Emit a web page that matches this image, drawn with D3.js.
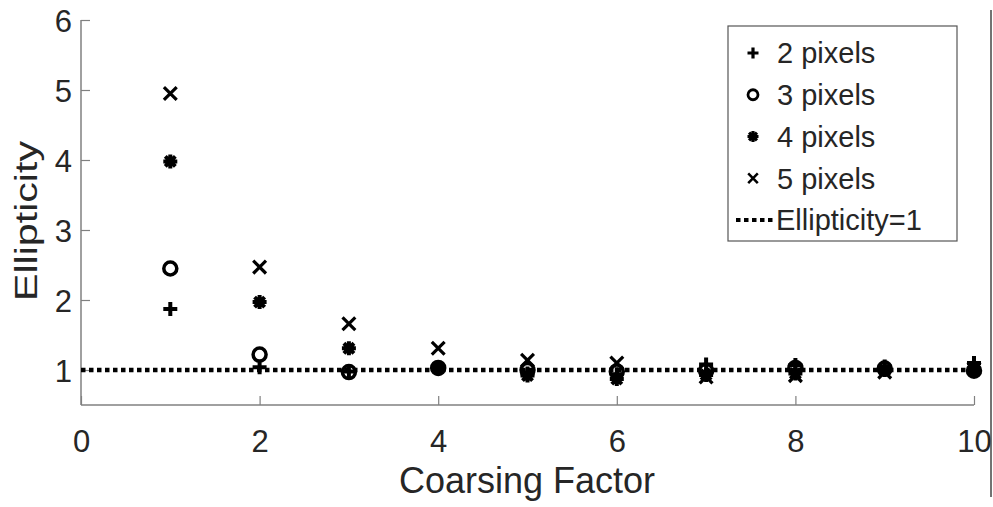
<!DOCTYPE html>
<html>
<head>
<meta charset="utf-8">
<script src="https://cdn.jsdelivr.net/npm/d3@7"></script>
<style>
  body { margin: 0; background: #fff; }
  svg text { font-family: "Liberation Sans", Arial, Helvetica, sans-serif; }
</style>
</head>
<body>
<svg id="chart" width="993" height="507"></svg>
<script>
// coarsing factor on x, one ellipticity series per pixel size
const factors = [1, 2, 3, 4, 5, 6, 7, 8, 9, 10]
const px2 = [1.87, 1.04, 0.98, 1.02, 0.95, 0.94, 1.08, 1.07, 1.05, 1.10]
const px3 = [2.45, 1.22, 0.97, 1.03, 1.00, 0.98, 0.99, 1.03, 1.02, 0.99]
const px4 = [3.98, 1.97, 1.31, 1.03, 0.92, 0.87, 0.93, 0.95, 1.00, 1.00]
const px5 = [4.95, 2.47, 1.66, 1.31, 1.14, 1.10, 0.90, 0.92, 0.97, 1.02]
const seriesNames = ['2 pixels', '3 pixels', '4 pixels', '5 pixels']
const xTicks = [0, 2, 4, 6, 8, 10]
const yTicks = [1, 2, 3, 4, 5, 6]
const refValue = 1
const refLabel = 'Ellipticity=1'

const svg = d3.select('#chart')
const axisColor = '#808080'
const textColor = '#262626'

const xScale = d3.scaleLinear().domain([0, 10]).range([81, 974])
const yScale = d3.scaleLinear().domain([0.5, 6]).range([405, 20])

// marker shapes (matlab style + o * x)
const plusSym = { draw(ctx, s) { const r = Math.sqrt(s) / 2; ctx.moveTo(-r, 0); ctx.lineTo(r, 0); ctx.moveTo(0, -r); ctx.lineTo(0, r) } }
const circleSym = { draw(ctx, s) { const r = Math.sqrt(s) / 2; ctx.moveTo(r, 0); ctx.arc(0, 0, r, 0, 2 * Math.PI) } }
const starSym = { draw(ctx, s) {
  const r = Math.sqrt(s) / 2, d = r * 0.72
  ctx.moveTo(-r, 0); ctx.lineTo(r, 0); ctx.moveTo(0, -r); ctx.lineTo(0, r)
  ctx.moveTo(-d, -d); ctx.lineTo(d, d); ctx.moveTo(-d, d); ctx.lineTo(d, -d)
} }
const timesSym = { draw(ctx, s) { const r = Math.sqrt(s) / 2 * 0.8; ctx.moveTo(-r, -r); ctx.lineTo(r, r); ctx.moveTo(-r, r); ctx.lineTo(r, -r) } }

const series = [
  { name: seriesNames[0], values: px2, sym: plusSym, size: 14, w: 4, lsize: 11 },
  { name: seriesNames[1], values: px3, sym: circleSym, size: 13, w: 3.5, lsize: 10 },
  { name: seriesNames[2], values: px4, sym: starSym, size: 14, w: 4, lsize: 11 },
  { name: seriesNames[3], values: px5, sym: timesSym, size: 16, w: 3.2, lsize: 12 }
]

// axes
const xAxis = d3.axisBottom(xScale).tickValues(xTicks).tickSize(-9).tickFormat(d3.format('d'))
const yAxis = d3.axisLeft(yScale).tickValues(yTicks).tickSize(-9).tickFormat(d3.format('d'))

const gx = svg.append('g').attr('transform', 'translate(0,405)').call(xAxis)
const gy = svg.append('g').attr('transform', 'translate(81,0)').call(yAxis)

gx.select('.domain').attr('d', 'M81,0H974').attr('stroke', axisColor).attr('stroke-width', 1.5)
gy.select('.domain').attr('d', 'M0,20V405').attr('stroke', axisColor).attr('stroke-width', 1.5)
svg.selectAll('.tick line').attr('stroke', axisColor).attr('stroke-width', 1.2)
gx.selectAll('.tick text').attr('font-size', 31).attr('fill', textColor).attr('dy', 0).attr('y', 47)
gy.selectAll('.tick text').attr('font-size', 31).attr('fill', textColor).attr('x', -9).attr('dy', '0.36em')

// reference line
svg.append('line')
  .attr('x1', xScale(0)).attr('x2', xScale(10))
  .attr('y1', yScale(refValue)).attr('y2', yScale(refValue))
  .attr('stroke', '#000').attr('stroke-width', 4.5).attr('stroke-dasharray', '4.5,3.5')

// markers
series.forEach(s => {
  svg.append('g').selectAll('path').data(s.values).enter().append('path')
    .attr('transform', (d, i) => `translate(${xScale(factors[i])},${yScale(d)})`)
    .attr('d', d3.symbol(s.sym, s.size * s.size))
    .attr('fill', 'none').attr('stroke', '#000').attr('stroke-width', s.w)
})

// axis titles
svg.append('text').attr('x', 527).attr('y', 493).attr('text-anchor', 'middle')
  .attr('font-size', 36).attr('fill', textColor).text('Coarsing Factor')
svg.append('text').attr('transform', 'translate(37,221) rotate(-90)').attr('text-anchor', 'middle')
  .attr('font-size', 32).attr('fill', textColor)
  .attr('textLength', 160).attr('lengthAdjust', 'spacingAndGlyphs').text('Ellipticity')

// legend
const lg = svg.append('g')
lg.append('rect').attr('x', 728).attr('y', 26).attr('width', 229).attr('height', 215)
  .attr('fill', '#fff').attr('stroke', '#555').attr('stroke-width', 1.2)
const rowY = d3.scalePoint().domain(d3.range(5)).range([53, 220])
series.forEach((s, i) => {
  lg.append('path').attr('transform', `translate(753,${rowY(i)})`)
    .attr('d', d3.symbol(s.sym, s.lsize * s.lsize))
    .attr('fill', 'none').attr('stroke', '#000').attr('stroke-width', s.w * 0.8)
  lg.append('text').attr('x', 777).attr('y', rowY(i)).attr('dy', '0.36em')
    .attr('font-size', 29).attr('fill', textColor).text(s.name)
})
lg.append('line').attr('x1', 736).attr('x2', 775).attr('y1', rowY(4)).attr('y2', rowY(4))
  .attr('stroke', '#000').attr('stroke-width', 4).attr('stroke-dasharray', '4.5,3.5')
lg.append('text').attr('x', 776).attr('y', rowY(4)).attr('dy', '0.36em')
  .attr('font-size', 29).attr('fill', textColor).text(refLabel)

// frame edge at the right
svg.append('line').attr('x1', 991).attr('x2', 991).attr('y1', 10).attr('y2', 497)
  .attr('stroke', '#444').attr('stroke-width', 1.5)
</script>
</body>
</html>
